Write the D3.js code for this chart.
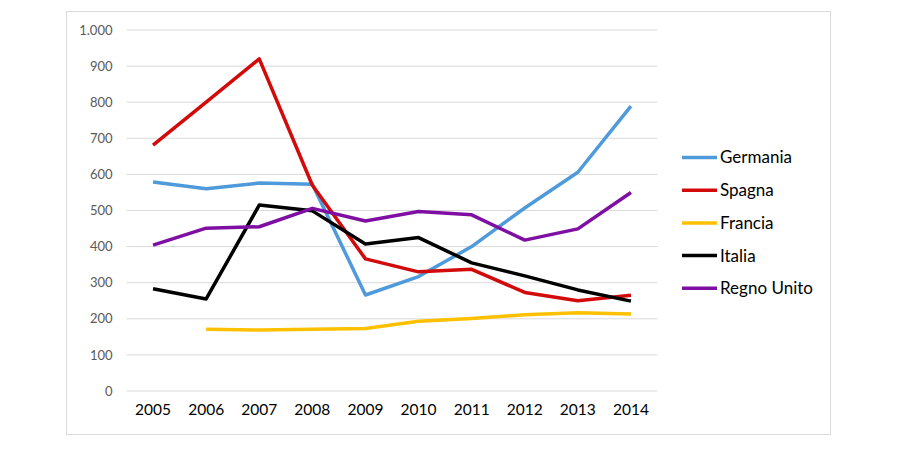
<!DOCTYPE html>
<html>
<head>
<meta charset="utf-8">
<script src="https://cdn.jsdelivr.net/npm/d3@7"></script>
<style>
  body { margin: 0; background: #fff; }
  text { font-family: "Lato", "Open Sans", sans-serif; }
</style>
</head>
<body>
<script>
const years = ["2005", "2006", "2007", "2008", "2009", "2010", "2011", "2012", "2013", "2014"];
const germania = [579, 560, 576, 573, 266, 317, 400, 507, 606, 789];
const spagna = [681, 800, 920, 570, 366, 330, 337, 273, 250, 265];
const francia = [null, 171, 169, 171, 173, 193, 201, 211, 217, 213];
const italia = [283, 255, 515, 499, 407, 425, 355, 319, 280, 249];
const regnoUnito = [404, 451, 455, 506, 471, 497, 488, 418, 449, 550];
const yTicks = [0, 100, 200, 300, 400, 500, 600, 700, 800, 900, 1000];

const series = [
  { name: "Germania", values: germania, color: "#4E9ADB" },
  { name: "Spagna", values: spagna, color: "#D20A0A" },
  { name: "Francia", values: francia, color: "#FFC000" },
  { name: "Italia", values: italia, color: "#000000" },
  { name: "Regno Unito", values: regnoUnito, color: "#7E0FA2" }
];

const W = 899, H = 450;
const plot = { left: 126.5, right: 657.5, top: 30, bottom: 391 };

const svg = d3.select("body").append("svg")
  .attr("width", W)
  .attr("height", H);

// chart frame
svg.append("rect")
  .attr("x", 66.5).attr("y", 11.5)
  .attr("width", 764).attr("height", 423)
  .attr("fill", "#fff")
  .attr("stroke", "#d9d9d9");

const x = d3.scaleBand().domain(years).range([plot.left, plot.right]);
const y = d3.scaleLinear().domain([0, 1000]).range([plot.bottom, plot.top]);

const it = d3.formatLocale({ decimal: ",", thousands: ".", grouping: [3], currency: ["€", ""] });
const fmt = it.format(",");

// gridlines
svg.append("g")
  .selectAll("line")
  .data(yTicks)
  .join("line")
  .attr("x1", plot.left).attr("x2", plot.right)
  .attr("y1", d => y(d)).attr("y2", d => y(d))
  .attr("stroke", "#d9d9d9")
  .attr("stroke-width", 1);

// y axis labels
const yAxis = svg.append("g")
  .attr("transform", `translate(${plot.left},0)`)
  .call(d3.axisLeft(y).tickValues(yTicks).tickFormat(fmt).tickSize(0).tickPadding(14));
yAxis.select(".domain").remove();
yAxis.selectAll("text")
  .attr("fill", "#595959")
  .style("font-size", "13px");

// x axis labels
const xAxis = svg.append("g")
  .attr("transform", `translate(0,${plot.bottom})`)
  .call(d3.axisBottom(x).tickSize(0).tickPadding(13));
xAxis.select(".domain").remove();
xAxis.selectAll("text")
  .attr("fill", "#000")
  .style("font-size", "15.5px");

// lines
const line = d3.line()
  .defined(d => d.v != null)
  .x(d => x(d.year) + x.bandwidth() / 2)
  .y(d => y(d.v));

svg.append("g")
  .selectAll("path")
  .data(series)
  .join("path")
  .attr("d", s => line(years.map((yr, i) => ({ year: yr, v: s.values[i] }))))
  .attr("fill", "none")
  .attr("stroke", s => s.color)
  .attr("stroke-width", 3.5)
  .attr("stroke-linejoin", "round");

// legend
const legend = svg.append("g")
  .selectAll("g")
  .data(series)
  .join("g")
  .attr("transform", (d, i) => `translate(682,${157.5 + i * 32.7})`);

legend.append("line")
  .attr("x1", 0).attr("x2", 35)
  .attr("stroke", d => d.color)
  .attr("stroke-width", 3.5);

legend.append("text")
  .attr("x", 38)
  .attr("dy", "0.35em")
  .style("font-size", "17px")
  .attr("fill", "#000")
  .text(d => d.name);
</script>
</body>
</html>
